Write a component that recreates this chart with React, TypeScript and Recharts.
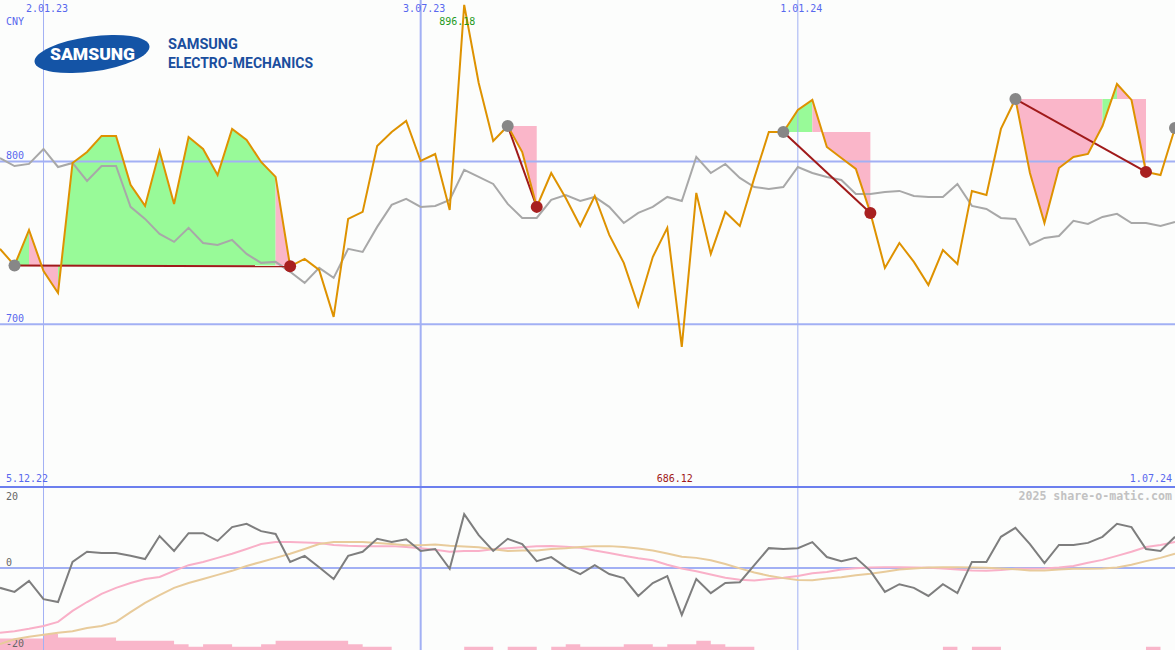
import React from "react";
import { ComposedChart, Line, Area, XAxis, YAxis, ReferenceLine, ReferenceDot } from "recharts";

if (typeof document !== "undefined") {
  document.body.style.margin = "0";
}

// ---------- data ----------
// weekly closes, 5.12.22 ... 1.07.24 (index 0 = 12.12.22 visible at left edge)
const price = [
  746.3, 736.1, 757.9, 732.7, 719.2, 799.1, 805.8, 815.7, 815.7, 785.6,
  772.7, 806.4, 773.9, 815.0, 807.7, 791.7, 820.0, 813.2, 799.7, 790.5,
  735.6, 740.1, 733.4, 704.5, 764.7, 769.0, 809.5, 818.1, 824.9, 800.3,
  804.6, 770.2, 896.18, 848.2, 812.6, 821.8, 805.8, 772.1, 792.9, 777.6,
  760.4, 778.8, 754.9, 737.7, 711.2, 741.3, 759.2, 686.12, 780.7, 743.2,
  769.0, 760.4, 789.9, 818.1, 818.1, 831.6, 837.8, 808.9, 802.1, 795.4,
  768.4, 734.6, 749.9, 738.3, 724.1, 745.6, 737.0, 781.9, 779.4, 820.0,
  838.4, 792.9, 762.2, 796.0, 802.8, 804.6, 821.8, 847.6, 837.8, 793.6,
  791.7, 820.6,
];

const benchmark = [
  802.1, 797.2, 798.5, 807.7, 796.6, 799.1, 788.0, 797.2, 797.2, 772.1,
  764.7, 755.5, 750.6, 759.2, 749.9, 748.7, 751.8, 743.2, 737.7, 738.3,
  732.2, 725.4, 734.6, 728.5, 746.3, 744.4, 759.8, 773.3, 777.0, 772.1,
  772.7, 776.4, 794.8, 790.5, 786.2, 773.9, 765.3, 765.3, 776.4, 779.4,
  775.7, 778.2, 772.1, 762.2, 768.4, 772.1, 778.2, 775.7, 802.8, 792.9,
  798.5, 789.9, 784.3, 783.1, 784.3, 796.6, 792.9, 790.5, 788.6, 780.0,
  780.0, 781.3, 781.9, 778.8, 778.2, 778.2, 786.2, 772.7, 770.8, 765.3,
  764.7, 748.7, 753.0, 754.2, 763.5, 761.6, 765.9, 767.8, 762.2, 762.2,
  760.4, 762.8,
];

const momentum = [
  -4.9, -5.9, -3.2, -7.7, -8.4, 1.5, 4.0, 3.7, 3.7, 3.0,
  2.2, 7.9, 4.2, 8.6, 8.6, 6.7, 10.1, 10.9, 9.1, 8.4,
  1.5, 3.0, 0.2, -2.7, 3.0, 4.0, 7.2, 6.4, 7.1, 4.2,
  4.7, -0.2, 13.3, 8.1, 4.2, 7.2, 5.9, 1.7, 2.7, 0.2,
  -1.5, 0.7, -1.5, -2.5, -6.9, -3.7, -2.0, -11.6, -2.7, -6.2,
  -3.7, -3.5, 0.7, 4.9, 4.7, 4.9, 6.4, 2.7, 1.7, 2.5,
  -0.7, -5.9, -4.0, -4.9, -6.9, -4.0, -6.2, 1.5, 1.5, 7.7,
  9.9, 5.9, 1.2, 5.7, 5.7, 6.2, 7.7, 10.9, 10.1, 4.7,
  4.2, 7.7,
];

const signalLine = [
  -16.0, -15.6, -15.0, -14.3, -13.3, -10.6, -8.4, -6.4, -4.9, -3.7,
  -2.7, -2.2, -0.7, 0.7, 1.5, 2.5, 3.5, 4.7, 5.9, 6.4,
  6.4, 6.3, 6.2, 5.7, 5.5, 5.4, 5.4, 5.4, 5.2, 4.9,
  4.5, 4.0, 4.2, 4.2, 4.6, 4.9, 5.1, 5.35, 5.4, 5.25,
  5.0, 4.3, 3.7, 3.0, 2.4, 1.9, 0.8, -0.1, -0.8, -1.6,
  -2.4, -2.9, -3.1, -2.7, -2.4, -2.0, -1.3, -1.0, -0.4, -0.05,
  0.15, 0.2, 0.2, 0.15, 0.05, -0.1, -0.4, -0.6, -0.7, -0.5,
  -0.2, -0.2, -0.15, 0.1, 0.5, 1.3, 2.0, 3.0, 4.0, 5.2,
  5.7, 6.4,
];

const slowLine = [
  -18.8, -17.6, -17.0, -16.5, -16.0, -15.6, -14.8, -14.3, -13.3, -10.9,
  -8.6, -6.7, -4.9, -3.7, -2.7, -1.7, -0.7, 0.5, 1.5, 2.5,
  3.5, 4.7, 5.9, 6.4, 6.4, 6.4, 6.2, 5.9, 5.6, 5.6,
  5.8, 5.5, 5.3, 5.1, 4.6, 4.2, 4.3, 4.3, 4.7, 4.9,
  5.2, 5.4, 5.4, 5.2, 4.8, 4.3, 3.6, 2.8, 2.5, 1.9,
  1.0, -0.1, -1.1, -1.9, -2.5, -2.95, -3.0, -2.6, -2.3, -1.8,
  -1.4, -0.9, -0.4, -0.1, 0.1, 0.2, 0.2, 0.15, 0.05, -0.1,
  -0.3, -0.6, -0.6, -0.4, -0.2, -0.2, -0.1, 0.1, 0.8, 1.7,
  2.5, 3.5,
];

const volumeBars = [
  3.5, 3.5, 3.5, 4.9, 3.8, 3.8, 3.8, 3.8, 2.8, 2.8,
  2.8, 2.8, 1.8, 1, 1.8, 1.8, 1, 1, 1.8, 2.8,
  2.8, 2.8, 2.8, 2.8, 1.8, 1, 1, 0, 0, 0,
  0, 0, 1, 1, 0, 1, 1, 0, 1, 1.8,
  1, 1, 1, 1.8, 1.8, 1, 1.8, 1.8, 2.8, 1.8,
  1, 1, 0, 0, 0, 0, 0, 0, 0, 0,
  0, 0, 0, 0, 0, 1, 0, 1, 1, 0,
  0, 0, 0, 0, 0, 0, 0, 0, 0, 1,
  0, 0,
];

// buy (gray) -> sell (red) signals, by week index
const trades = [
  { buy: 1, sell: 20 },
  { buy: 35, sell: 37 },
  { buy: 54, sell: 60 },
  { buy: 70, sell: 79 },
];
const openBuys = [81];

// coloured bands between the entry level and the price
const bands = [
  { trade: 0, from: 1, to: 2, color: "green" },
  { trade: 0, from: 2, to: 4, color: "pink" },
  { trade: 0, from: 4, to: 19, color: "green" },
  { trade: 0, from: 19, to: 20, color: "pink" },
  { trade: 1, from: 35, to: 37, color: "pink" },
  { trade: 2, from: 54, to: 56, color: "green" },
  { trade: 2, from: 56, to: 60, color: "pink" },
  { trade: 3, from: 70, to: 76, color: "pink" },
  { trade: 3, from: 76, to: 77, color: "green" },
  { trade: 3, from: 77, to: 79, color: "pink" },
];

const dateTicks = [
  { i: 3, label: "2.01.23", major: false },
  { i: 29, label: "3.07.23", major: true },
  { i: 55, label: "1.01.24", major: false },
];
const rangeLabels = { start: "5.12.22", end: "1.07.24" };
const currency = "CNY";
const priceTicks = [800, 700];
const oscTicks = [20, 0, -20];
const watermark = "2025 share-o-matic.com";

// ---------- styles ----------
const W = 1175;
const H_MAIN = 487;
const H_SUB = 163;
const LAST = price.length - 1;
const MONO = "'DejaVu Sans Mono', monospace";
const BG = "#fcfdfc";
const ORANGE = "#de9200";
const BENCH = "#a8a8a8";
const GREEN = "#98fa98";
const PINK = "#fab6c9";
const DARKRED = "#a01a1a";
const RED_DOT = "#a82020";
const GRAY_DOT = "#878787";
const GRID = "#a2b0f4";
const SEP = "#6c7fee";
const BLUE_TXT = "#5868ee";
const MOM = "#7e7e7e";
const SIG = "#f9b0c8";
const SLOW = "#e8cb9b";
const VOL = "#f9b6ca";

const maxIdx = price.indexOf(Math.max(...price));
const minIdx = price.indexOf(Math.min(...price));

const mainData = price.map((p, i) => {
  const row: any = { i, price: p, bench: benchmark[i], buyDot: null, sellDot: null };
  trades.forEach((t, k) => {
    row["trade" + k] = i === t.buy || i === t.sell ? p : null;
    if (i === t.buy) row.buyDot = p;
    if (i === t.sell) row.sellDot = p;
  });
  if (openBuys.includes(i)) row.buyDot = p;
  bands.forEach((b, k) => {
    const level = price[trades[b.trade].buy];
    row["band" + k] = i >= b.from && i <= b.to ? [level, p] : null;
  });
  return row;
});

const subData = momentum.map((m, i) => ({
  i,
  mom: m,
  sig: signalLine[i],
  slow: slowLine[i],
  vol: volumeBars[i],
}));

const fmt = (v: number) => v.toFixed(2);

export default function App() {
  return (
    <div style={{ position: "relative", width: W, height: H_MAIN + H_SUB, background: BG, overflow: "hidden" }}>
      <ComposedChart width={W} height={H_MAIN} data={mainData} margin={{ top: 0, right: 0, bottom: 0, left: 0 }}>
        <XAxis type="number" dataKey="i" domain={[0, LAST]} hide allowDataOverflow />
        <YAxis type="number" domain={[600, 899.2]} hide allowDataOverflow />
        {bands.map((b, k) => (
          <Area
            key={"band" + k}
            dataKey={"band" + k}
            type="linear"
            stroke="none"
            fill={b.color === "green" ? GREEN : PINK}
            fillOpacity={1}
            dot={false}
            activeDot={false}
            isAnimationActive={false}
          />
        ))}
        {priceTicks.map((v) => (
          <ReferenceLine
            key={"p" + v}
            y={v}
            stroke={GRID}
            strokeWidth={2}
            label={(props: any) => (
              <text x={6} y={(props.viewBox?.y ?? 0) - 2} fill={BLUE_TXT} fontSize={10} fontFamily={MONO}>
                {String(v)}
              </text>
            )}
          />
        ))}
        {dateTicks.map((d) => (
          <ReferenceLine
            key={"d" + d.i}
            x={d.i}
            stroke={GRID}
            strokeWidth={d.major ? 2 : 1}
            label={(props: any) => (
              <text
                x={(props.viewBox?.x ?? 0) + 3.5}
                y={(props.viewBox?.y ?? 0) + 12}
                textAnchor="middle"
                fill={BLUE_TXT}
                fontSize={10}
                fontFamily={MONO}
              >
                {d.label}
              </text>
            )}
          />
        ))}
        <ReferenceLine y={600} stroke={SEP} strokeWidth={2} />
        <Line dataKey="bench" stroke={BENCH} strokeWidth={2} dot={false} activeDot={false} isAnimationActive={false} />
        <Line
          dataKey="buyDot"
          stroke="none"
          dot={{ r: 6, fill: GRAY_DOT, stroke: "none" }}
          activeDot={false}
          isAnimationActive={false}
        />
        <Line
          dataKey="sellDot"
          stroke="none"
          dot={{ r: 6, fill: RED_DOT, stroke: "none" }}
          activeDot={false}
          isAnimationActive={false}
        />
        {trades.map((t, k) => (
          <Line
            key={"trade" + k}
            dataKey={"trade" + k}
            stroke={DARKRED}
            strokeWidth={2}
            dot={false}
            activeDot={false}
            connectNulls
            isAnimationActive={false}
          />
        ))}
        <Line dataKey="price" stroke={ORANGE} strokeWidth={2} dot={false} activeDot={false} isAnimationActive={false} />
        <ReferenceDot
          x={maxIdx}
          y={price[maxIdx]}
          r={0}
          fill="none"
          stroke="none"
          label={(props: any) => (
            <text
              x={(props.viewBox?.x ?? 0) - 7}
              y={(props.viewBox?.y ?? 0) + 20}
              textAnchor="middle"
              fill="#1f9a1f"
              fontSize={10}
              fontFamily={MONO}
            >
              {fmt(price[maxIdx])}
            </text>
          )}
        />
        <ReferenceDot
          x={minIdx}
          y={price[minIdx]}
          r={0}
          fill="none"
          stroke="none"
          label={(props: any) => (
            <text
              x={(props.viewBox?.x ?? 0) - 7}
              y={H_MAIN - 5}
              textAnchor="middle"
              fill="#a01818"
              fontSize={10}
              fontFamily={MONO}
            >
              {fmt(price[minIdx])}
            </text>
          )}
        />
      </ComposedChart>
      <ComposedChart width={W} height={H_SUB} data={subData} margin={{ top: 0, right: 0, bottom: 0, left: 0 }}>
        <XAxis type="number" dataKey="i" domain={[0, LAST]} hide allowDataOverflow />
        <YAxis yAxisId="osc" type="number" domain={[-20.25, 20]} hide allowDataOverflow />
        <YAxis yAxisId="vol" type="number" domain={[0, 50]} hide allowDataOverflow />
        <Area
          yAxisId="vol"
          dataKey="vol"
          type="stepAfter"
          stroke="none"
          fill={VOL}
          fillOpacity={1}
          dot={false}
          activeDot={false}
          isAnimationActive={false}
        />
        <ReferenceLine yAxisId="osc" y={0} stroke={GRID} strokeWidth={2} />
        {dateTicks.map((d) => (
          <ReferenceLine key={"sd" + d.i} yAxisId="osc" x={d.i} stroke={GRID} strokeWidth={d.major ? 2 : 1} />
        ))}
        <ReferenceLine yAxisId="osc" y={20} stroke={SEP} strokeWidth={2} />
        {oscTicks.map((v) => (
          <ReferenceLine
            key={"o" + v}
            yAxisId="osc"
            y={v}
            stroke="none"
            label={(props: any) => {
              const y = props.viewBox?.y ?? 0;
              const ty = v === oscTicks[0] ? y + 13 : y - 2;
              return (
                <text x={6} y={ty} fill="#666666" fontSize={10} fontFamily={MONO}>
                  {String(v)}
                </text>
              );
            }}
          />
        ))}
        <Line yAxisId="osc" dataKey="sig" stroke={SIG} strokeWidth={2} dot={false} activeDot={false} isAnimationActive={false} />
        <Line yAxisId="osc" dataKey="slow" stroke={SLOW} strokeWidth={2} dot={false} activeDot={false} isAnimationActive={false} />
        <Line yAxisId="osc" dataKey="mom" stroke={MOM} strokeWidth={2} dot={false} activeDot={false} isAnimationActive={false} />
      </ComposedChart>
      <svg
        width={W}
        height={H_MAIN + H_SUB}
        style={{ position: "absolute", left: 0, top: 0, pointerEvents: "none" }}
      >
        <text x={6} y={25} fill={BLUE_TXT} fontSize={10} fontFamily={MONO}>
          {currency}
        </text>
        <ellipse cx={92} cy={54} rx={58} ry={17.5} fill="#1454a6" transform="rotate(-8 92 54)" />
        <text
          x={92.5}
          y={60}
          textAnchor="middle"
          fill="#ffffff"
          fontFamily="Roboto, 'DejaVu Sans', sans-serif"
          fontWeight={900}
          fontSize={16.5}
          textLength={85}
          lengthAdjust="spacingAndGlyphs"
        >
          SAMSUNG
        </text>
        <text
          x={168}
          y={49}
          fill="#1a4e9e"
          fontFamily="Roboto, 'DejaVu Sans', sans-serif"
          fontWeight={700}
          fontSize={15.5}
          textLength={70}
          lengthAdjust="spacingAndGlyphs"
        >
          SAMSUNG
        </text>
        <text
          x={168}
          y={68}
          fill="#1a4e9e"
          fontFamily="Roboto, 'DejaVu Sans', sans-serif"
          fontWeight={700}
          fontSize={15.5}
          textLength={145}
          lengthAdjust="spacingAndGlyphs"
        >
          ELECTRO-MECHANICS
        </text>
        <text x={6} y={H_MAIN - 5} fill={BLUE_TXT} fontSize={10} fontFamily={MONO}>
          {rangeLabels.start}
        </text>
        <text x={W - 3} y={H_MAIN - 5} textAnchor="end" fill={BLUE_TXT} fontSize={10} fontFamily={MONO}>
          {rangeLabels.end}
        </text>
        <text
          x={W - 3}
          y={H_MAIN + 13}
          textAnchor="end"
          fill="#c2c2c2"
          fontSize={11.6}
          fontWeight="bold"
          fontFamily={MONO}
        >
          {watermark}
        </text>
      </svg>
    </div>
  );
}
